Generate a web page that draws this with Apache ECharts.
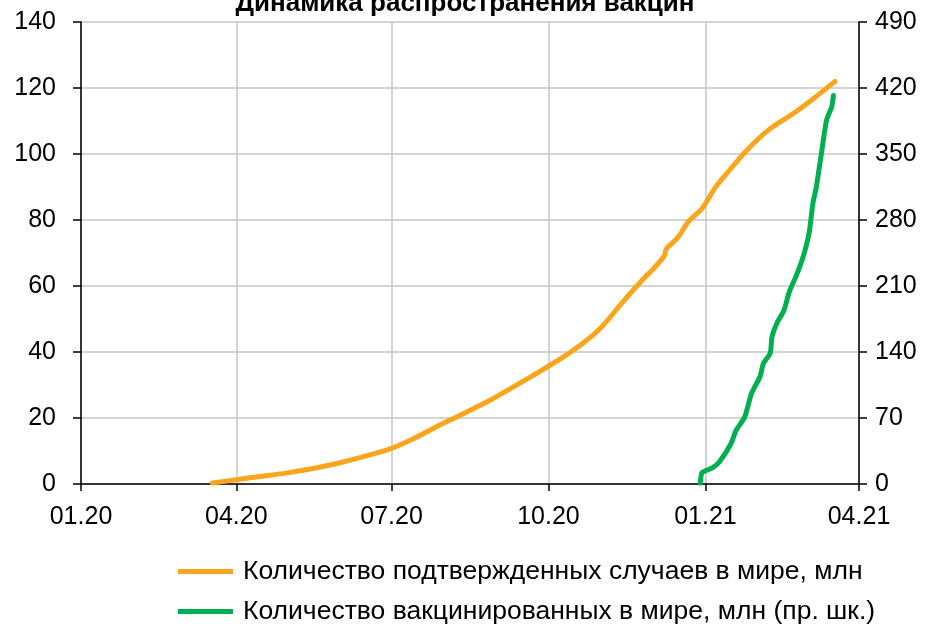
<!DOCTYPE html>
<html>
<head>
<meta charset="utf-8">
<script src="https://cdn.jsdelivr.net/npm/echarts@6/dist/echarts.min.js"></script>
<style>
  html, body { margin: 0; padding: 0; background: #ffffff; }
  #chart { width: 930px; height: 626px; }
</style>
</head>
<body>
<div id="chart"></div>
<script>
// Confirmed COVID-19 cases worldwide, millions (left scale)
const casesDates = [
  '2020-03-18', '2020-04-01', '2020-04-15', '2020-04-30', '2020-05-16', '2020-05-30',
  '2020-06-14', '2020-07-01', '2020-07-15', '2020-07-29', '2020-08-12', '2020-08-26',
  '2020-09-09', '2020-09-23', '2020-10-07', '2020-10-21', '2020-11-01', '2020-11-13',
  '2020-11-25', '2020-12-02', '2020-12-08', '2020-12-09', '2020-12-16', '2020-12-22',
  '2020-12-30', '2021-01-07', '2021-01-15', '2021-01-25', '2021-02-07', '2021-02-23',
  '2021-03-08', '2021-03-18'
];
const casesValues = [
  0.3, 1.3, 2.3, 3.3, 4.7, 6.2,
  8.2, 10.8, 14.0, 17.8, 21.3, 24.9,
  29.0, 33.2, 37.6, 42.6, 47.5, 54.8,
  61.8, 65.5, 69.2, 71.2, 74.8, 79.5,
  83.5, 90.0, 95.0, 101.0, 107.3, 112.8,
  117.9, 122.0
];

// People vaccinated worldwide, millions (right scale)
const vaccDates = [
  '2020-12-29', '2020-12-30', '2021-01-05', '2021-01-09', '2021-01-16', '2021-01-19',
  '2021-01-24', '2021-01-28', '2021-02-02', '2021-02-04', '2021-02-08', '2021-02-09',
  '2021-02-12', '2021-02-16', '2021-02-19', '2021-02-23', '2021-02-26', '2021-03-01',
  '2021-03-03', '2021-03-05', '2021-03-07', '2021-03-10', '2021-03-13', '2021-03-16',
  '2021-03-17'
];
const vaccValues = [
  1, 12, 17, 23, 43, 57,
  71, 96, 114, 128, 139, 156,
  171, 184, 203, 220, 234, 252,
  269, 298, 315, 351, 386, 400,
  412
];

// Quarterly ticks on the date axis
const xTickDates = ['2020-01-01', '2020-04-01', '2020-07-01', '2020-10-01', '2021-01-01', '2021-04-01'];
const xTickLabels = ['01.20', '04.20', '07.20', '10.20', '01.21', '04.21'];

const seriesNames = [
  'Количество подтвержденных случаев в мире, млн',
  'Количество вакцинированных в мире, млн (пр. шк.)'
];
const chartTitle = 'Динамика распространения вакцин';

// The x axis counts days from the first tick date
const origin = Date.parse(xTickDates[0]);
const dayOf = s => Math.round((Date.parse(s) - origin) / 864e5);
const xTicks = xTickDates.map(dayOf);
const labelFor = v => {
  const i = xTicks.indexOf(Math.round(v));
  return i >= 0 ? xTickLabels[i] : '';
};

const FONT = 'Liberation Sans, Arial, sans-serif';
const axisText = { color: '#000', fontSize: 25, fontFamily: FONT };
const black = { color: '#000', width: 1.5 };
const gridLine = { color: '#c6c6c6', width: 1.5 };
const ORANGE = '#F9A61E';
const GREEN = '#00B050';

const chart = echarts.init(document.getElementById('chart'), null, { renderer: 'canvas' });
chart.setOption({
  animation: false,
  backgroundColor: '#fff',
  title: {
    text: chartTitle,
    left: 'center',
    top: -14,
    textStyle: { color: '#000', fontSize: 26, fontWeight: 'bold', fontFamily: FONT }
  },
  grid: { left: 81, right: 71, top: 22, bottom: 142, containLabel: false },
  legend: {
    orient: 'vertical',
    left: 178,
    top: 558,
    padding: 0,
    itemWidth: 55,
    itemHeight: 5,
    itemGap: 13,
    icon: 'rect',
    textStyle: { color: '#000', fontSize: 26.5, fontFamily: FONT, padding: [0, 0, 0, 5] },
    data: seriesNames
  },
  xAxis: {
    type: 'value',
    min: xTicks[0],
    max: xTicks[xTicks.length - 1],
    axisLine: { show: true, onZero: false, lineStyle: black },
    axisTick: { show: true, length: 7, lineStyle: black, customValues: xTicks },
    axisLabel: { ...axisText, margin: 21, customValues: xTicks, formatter: labelFor },
    splitLine: { show: true, lineStyle: gridLine }
  },
  yAxis: [
    {
      type: 'value',
      min: 0, max: 140, interval: 20,
      axisLine: { show: true, lineStyle: black },
      axisTick: { show: true, length: 8, lineStyle: black },
      axisLabel: { ...axisText, margin: 25 },
      splitLine: { show: true, lineStyle: gridLine }
    },
    {
      type: 'value',
      position: 'right',
      min: 0, max: 490, interval: 70,
      axisLine: { show: true, lineStyle: black },
      axisTick: { show: true, length: 8, lineStyle: black },
      axisLabel: { ...axisText, margin: 16 },
      splitLine: { show: false }
    }
  ],
  series: [
    {
      name: seriesNames[0],
      type: 'line',
      yAxisIndex: 0,
      data: casesDates.map((d, i) => [dayOf(d), casesValues[i]]),
      symbol: 'none',
      smooth: 0.3,
      lineStyle: { color: ORANGE, width: 5, cap: 'round', join: 'round' },
      itemStyle: { color: ORANGE }
    },
    {
      name: seriesNames[1],
      type: 'line',
      yAxisIndex: 1,
      data: vaccDates.map((d, i) => [dayOf(d), vaccValues[i]]),
      symbol: 'none',
      smooth: 0.2,
      lineStyle: { color: GREEN, width: 5, cap: 'round', join: 'round' },
      itemStyle: { color: GREEN }
    }
  ]
});
</script>
</body>
</html>
